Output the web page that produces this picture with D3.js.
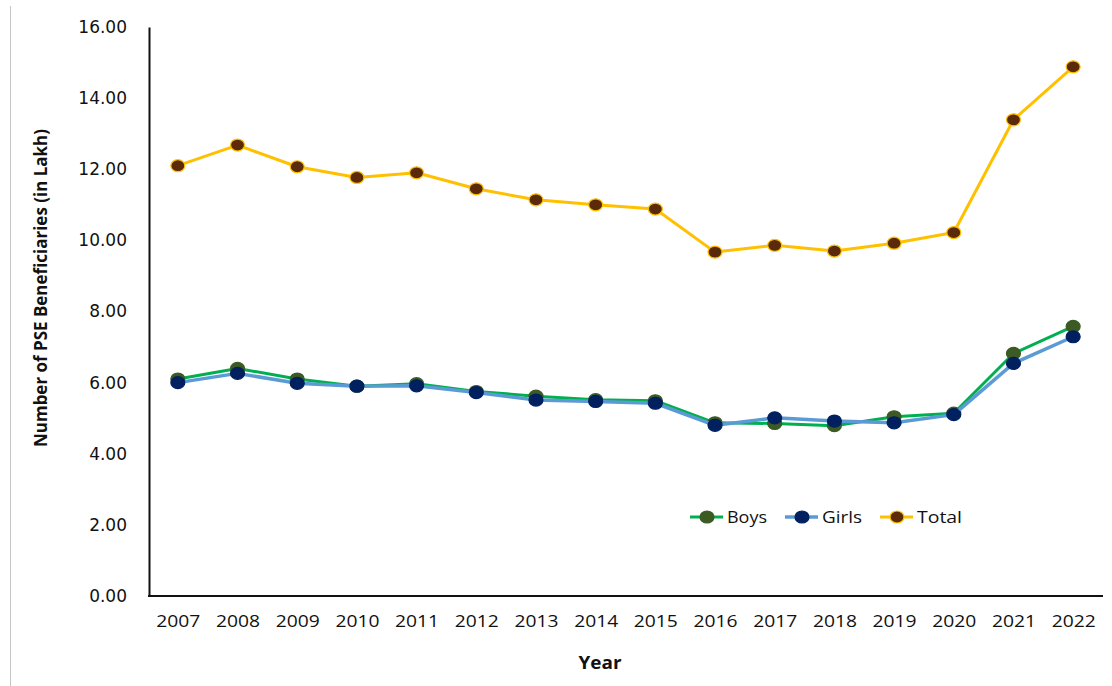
<!DOCTYPE html>
<html>
<head>
<meta charset="utf-8">
<script src="https://cdn.jsdelivr.net/npm/d3@7"></script>
<style>
  html, body { margin: 0; padding: 0; background: #ffffff; }
  svg { display: block; }
</style>
</head>
<body>
<svg id="chart" width="1112" height="686"></svg>
<script>
// PSE beneficiaries by year (in lakh)
const years = ["2007","2008","2009","2010","2011","2012","2013","2014","2015","2016","2017","2018","2019","2020","2021","2022"];
const boys  = [6.10, 6.40, 6.10, 5.90, 5.97, 5.75, 5.62, 5.52, 5.49, 4.87, 4.85, 4.79, 5.04, 5.14, 6.82, 7.58];
const girls = [6.00, 6.26, 5.98, 5.90, 5.91, 5.72, 5.51, 5.47, 5.42, 4.80, 5.01, 4.92, 4.87, 5.10, 6.54, 7.29];
const total = [12.10, 12.68, 12.07, 11.77, 11.90, 11.45, 11.14, 11.00, 10.88, 9.67, 9.86, 9.70, 9.92, 10.22, 13.39, 14.88];
const yTicks = [0, 2, 4, 6, 8, 10, 12, 14, 16];

const series = [
  { name: "Boys",  values: boys,  line: "#00b050", fill: "#3b5a24", edge: "#3b5a24", width: 3 },
  { name: "Girls", values: girls, line: "#5b9bd5", fill: "#002060", edge: "#002060", width: 3.5 },
  { name: "Total", values: total, line: "#ffc000", fill: "#5a2a0a", edge: "#ffc000", width: 3 }
];

const svg = d3.select("#chart");

const x = d3.scalePoint().domain(years).range([148, 1103]).padding(0.5);
const y = d3.scaleLinear().domain([0, 16]).range([596, 27]);

// thin frame line on the left
svg.append("line")
  .attr("x1", 10.5).attr("x2", 10.5).attr("y1", 6).attr("y2", 686)
  .attr("stroke", "#c4c4c4").attr("stroke-width", 1);

// y axis
const yAxis = svg.append("g")
  .attr("transform", "translate(149,0)")
  .call(d3.axisLeft(y).tickValues(yTicks).tickSize(0).tickSizeOuter(0).tickPadding(22)
    .tickFormat(d3.format(".2f")));
yAxis.select(".domain").attr("stroke", "#111").attr("stroke-width", 2);
yAxis.selectAll("text")
  .attr("font-family", "DejaVu Sans, Verdana, sans-serif")
  .attr("font-size", 17).attr("fill", "#111");

// x axis
const xAxis = svg.append("g")
  .attr("transform", "translate(0,596)")
  .call(d3.axisBottom(x).tickSize(0).tickSizeOuter(0).tickPadding(20));
xAxis.select(".domain").attr("stroke", "#111").attr("stroke-width", 2)
  .attr("d", "M148,0H1103");
xAxis.selectAll("text")
  .attr("font-family", "Open Sans, sans-serif")
  .attr("font-size", 16).attr("fill", "#111")
  .attr("textLength", 44).attr("lengthAdjust", "spacingAndGlyphs");

// axis titles
svg.append("text")
  .attr("transform", "translate(47,288) rotate(-90)")
  .attr("text-anchor", "middle")
  .attr("font-family", "Open Sans, sans-serif")
  .attr("font-weight", "bold").attr("font-size", 17).attr("fill", "#111")
  .attr("textLength", 318).attr("lengthAdjust", "spacingAndGlyphs")
  .text("Number of PSE Beneficiaries (in Lakh)");

svg.append("text")
  .attr("x", 600).attr("y", 669)
  .attr("text-anchor", "middle")
  .attr("font-family", "Open Sans, sans-serif")
  .attr("font-weight", "bold").attr("font-size", 17).attr("fill", "#111")
  .attr("textLength", 43).attr("lengthAdjust", "spacingAndGlyphs")
  .text("Year");

// lines and markers
const line = d3.line().x((d, i) => x(years[i])).y(d => y(d));

const groups = svg.selectAll("g.series")
  .data(series).enter().append("g").attr("class", "series");

groups.append("path")
  .attr("d", s => line(s.values))
  .attr("fill", "none")
  .attr("stroke", s => s.line)
  .attr("stroke-width", s => s.width)
  .attr("stroke-linejoin", "round");

groups.each(function (s) {
  d3.select(this).selectAll("ellipse")
    .data(s.values).enter().append("ellipse")
    .attr("cx", (d, i) => x(years[i]))
    .attr("cy", d => y(d))
    .attr("rx", 7).attr("ry", 6)
    .attr("fill", s.fill)
    .attr("stroke", s.edge)
    .attr("stroke-width", 1.2);
});

// legend
const legendItems = [
  { s: series[0], x0: 690, tw: 40 },
  { s: series[1], x0: 785, tw: 40 },
  { s: series[2], x0: 880, tw: 45 }
];
const legend = svg.append("g").attr("transform", "translate(0,517)");
legendItems.forEach(item => {
  const g = legend.append("g").attr("transform", `translate(${item.x0},0)`);
  g.append("line").attr("x1", 0).attr("x2", 33).attr("y1", 0).attr("y2", 0)
    .attr("stroke", item.s.line).attr("stroke-width", item.s.width);
  g.append("ellipse").attr("cx", 17).attr("cy", 0).attr("rx", 7).attr("ry", 6)
    .attr("fill", item.s.fill).attr("stroke", item.s.edge).attr("stroke-width", 1.2);
  g.append("text").attr("x", 37).attr("y", 6)
    .attr("font-family", "Open Sans, sans-serif").attr("font-size", 17).attr("fill", "#111")
    .attr("textLength", item.tw).attr("lengthAdjust", "spacingAndGlyphs")
    .text(item.s.name);
});
</script>
</body>
</html>
